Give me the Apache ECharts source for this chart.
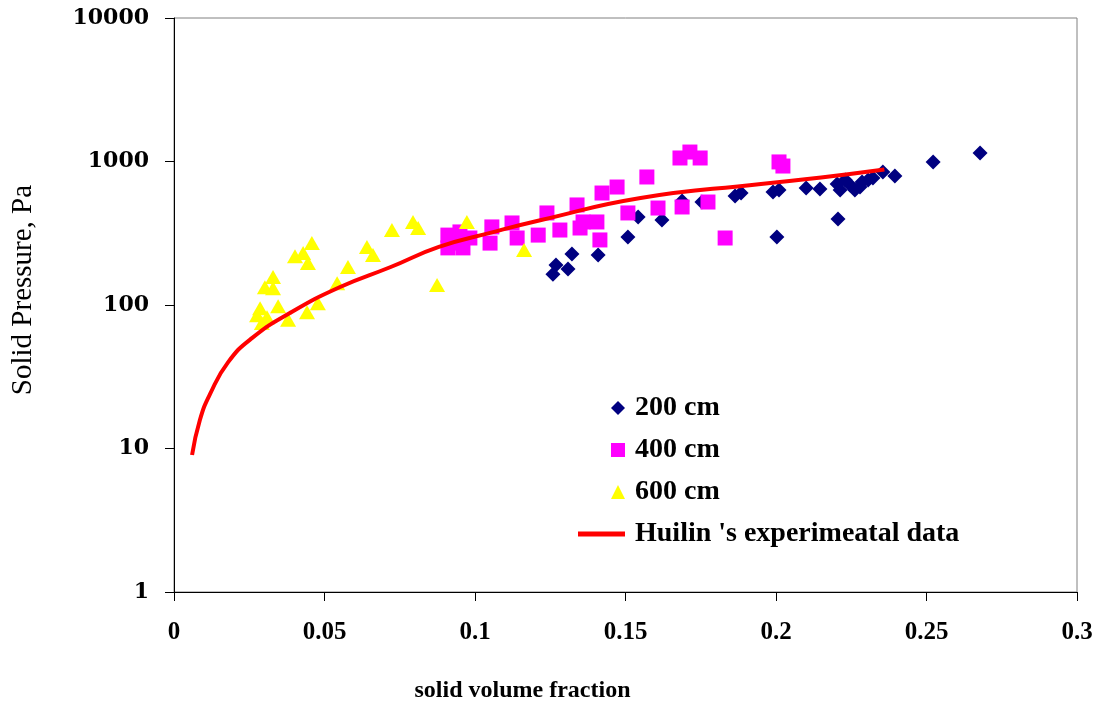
<!DOCTYPE html>
<html>
<head>
<meta charset="utf-8">
<script src="https://cdn.jsdelivr.net/npm/echarts@6/dist/echarts.min.js"></script>
<style>
  html, body { margin: 0; padding: 0; background: #fff; }
  #chart { width: 1103px; height: 713px; }
</style>
</head>
<body>
<div id="chart"></div>
<script>
// 200 cm (navy diamonds)
var x200 = [0.1259, 0.1269, 0.1309, 0.1322, 0.1409, 0.1508, 0.1542, 0.1621, 0.1688, 0.1754,
            0.1864, 0.1884, 0.199, 0.201, 0.2003, 0.21, 0.2146, 0.2206, 0.2203, 0.2213,
            0.223, 0.2246, 0.2262, 0.2279, 0.2286, 0.2306, 0.2322, 0.2355, 0.2395, 0.2522, 0.2678];
var y200 = [164, 190, 178, 227, 223, 298, 410, 391, 531, 522,
            575, 603, 613, 633, 298, 654, 644, 397, 697, 633,
            743, 686, 633, 664, 719, 743, 767, 845, 793, 993, 1146];

// 400 cm (magenta squares)
var x400 = [0.091, 0.0927, 0.091, 0.096, 0.095, 0.0983, 0.1056, 0.105, 0.1123, 0.114,
            0.121, 0.1239, 0.1282, 0.1339, 0.1349, 0.1359, 0.1405, 0.1415, 0.1422, 0.1472,
            0.1508, 0.1571, 0.1608, 0.1681, 0.1714, 0.1748, 0.1688, 0.1774, 0.1831, 0.201, 0.2023];
var y400 = [307, 270, 250, 250, 323, 293, 350, 270, 373, 293,
            307, 438, 333, 498, 344, 379, 379, 284, 603, 664,
            438, 780, 474, 1058, 1164, 1058, 482, 522, 293, 993, 930];

// 600 cm (yellow triangles)
var x600 = [0.0276, 0.0292, 0.0309, 0.0286, 0.0346, 0.0379, 0.0442, 0.0478, 0.0302, 0.0329,
            0.0329, 0.0402, 0.0429, 0.0445, 0.0458, 0.0542, 0.0578, 0.0641, 0.0661, 0.0724,
            0.0794, 0.0811, 0.0874, 0.0973, 0.1163];
var y600 = [85, 75, 82, 95, 98, 79, 89, 103, 133, 157,
            131, 219, 230, 196, 270, 142, 184, 254, 223, 333,
            379, 344, 138, 379, 242];

// Huilin's experimental curve
var xHuilin = [0.006, 0.0086, 0.012, 0.018, 0.026, 0.0385, 0.055, 0.072, 0.088, 0.105,
               0.122, 0.155, 0.195, 0.215, 0.236];
var yHuilin = [9, 15.8, 24, 40, 59, 88, 133, 184, 254, 318,
               391, 557, 697, 774, 880];

var yTicks = [1, 10, 100, 1000, 10000];

function pairs(xs, ys) {
    return xs.map(function (x, i) { return [x, ys[i]]; });
}

var serif = 'Liberation Serif';
var legendText = {
    fontFamily: serif,
    fontWeight: 'bold',
    fontSize: 28,
    lineHeight: 28,
    color: '#000',
    padding: [0, 0, 0, 5]
};
var chart = echarts.init(document.getElementById('chart'));

chart.setOption({
    animation: false,
    grid: {
        left: 174,
        right: 26,
        top: 18,
        bottom: 121,
        show: true,
        borderColor: '#808080',
        borderWidth: 1
    },
    legend: [{
        data: ['200 cm', '400 cm', '600 cm'],
        orient: 'vertical',
        left: 611,
        top: 394,
        padding: 0,
        itemWidth: 14,
        itemHeight: 14,
        itemGap: 14,
        textStyle: legendText
    }, {
        data: ["Huilin 's experimeatal data"],
        orient: 'vertical',
        left: 578,
        top: 520,
        padding: 0,
        icon: 'rect',
        itemWidth: 47,
        itemHeight: 5,
        textStyle: legendText
    }],
    xAxis: {
        type: 'value',
        min: 0,
        max: 0.3,
        interval: 0.05,
        name: 'solid volume fraction',
        nameLocation: 'middle',
        nameGap: 87,
        nameTextStyle: {
            fontFamily: serif,
            fontWeight: 'bold',
            fontSize: 24,
            color: '#000',
            padding: [0, 206, 0, 0]
        },
        axisLine: { lineStyle: { color: '#000', width: 1 } },
        axisTick: { show: true, length: 9, lineStyle: { color: '#000' } },
        splitLine: { show: false },
        axisLabel: {
            margin: 28,
            fontFamily: serif,
            fontWeight: 'bold',
            fontSize: 25,
            color: '#000',
            formatter: function (v) { return String(Number(v.toFixed(2))); }
        }
    },
    yAxis: {
        type: 'log',
        logBase: 10,
        min: 1,
        max: 10000,
        name: 'Solid Pressure, Pa',
        nameLocation: 'middle',
        nameGap: 136,
        nameTextStyle: {
            fontFamily: serif,
            fontSize: 29,
            color: '#000',
            padding: [0, 0, 0, 30]
        },
        axisLine: { show: true, lineStyle: { color: '#000', width: 1 } },
        axisTick: { show: true, length: 9, lineStyle: { color: '#000' } },
        splitLine: { show: false },
        minorTick: { show: false },
        axisLabel: {
            margin: 25,
            fontFamily: 'DejaVu Serif',
            fontWeight: 'bold',
            fontSize: 22,
            color: '#000',
            formatter: function (v) {
                var r = Math.round(v);
                return yTicks.indexOf(r) >= 0 ? String(r) : '';
            }
        }
    },
    series: [{
        name: '200 cm',
        type: 'scatter',
        symbol: 'diamond',
        symbolSize: 15,
        itemStyle: { color: '#000080', opacity: 1 },
        data: pairs(x200, y200)
    }, {
        name: '400 cm',
        type: 'scatter',
        symbol: 'rect',
        symbolSize: 15,
        itemStyle: { color: '#FF00FF', opacity: 1 },
        data: pairs(x400, y400)
    }, {
        name: '600 cm',
        type: 'scatter',
        symbol: 'triangle',
        symbolSize: [16, 14],
        itemStyle: { color: '#FFFF00', opacity: 1 },
        data: pairs(x600, y600)
    }, {
        name: "Huilin 's experimeatal data",
        type: 'line',
        symbol: 'none',
        smooth: true,
        lineStyle: { color: '#FF0000', width: 4 },
        itemStyle: { color: '#FF0000' },
        data: pairs(xHuilin, yHuilin),
        z: 5
    }]
});
</script>
</body>
</html>
